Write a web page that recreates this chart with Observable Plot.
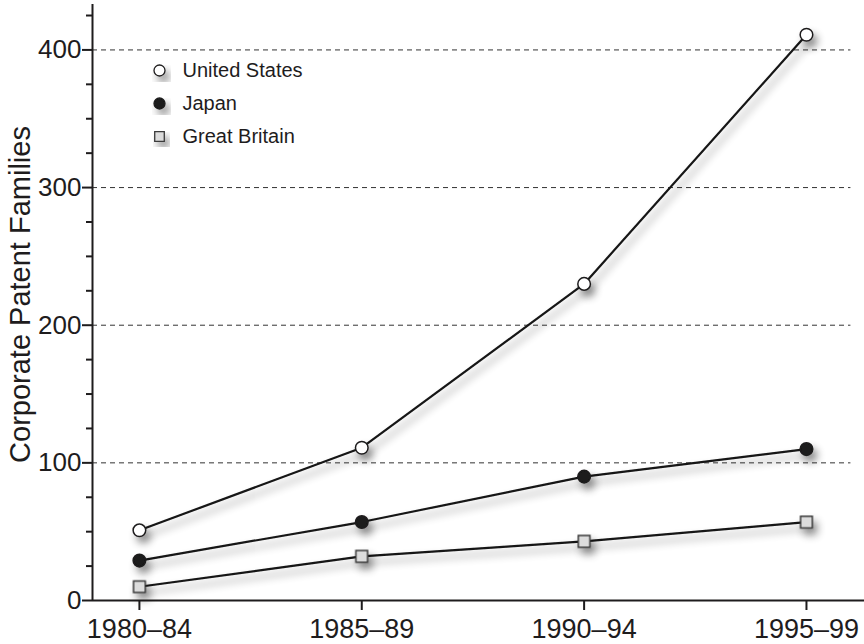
<!DOCTYPE html>
<html>
<head>
<meta charset="utf-8">
<script src="https://cdn.jsdelivr.net/npm/d3@7"></script>
<script src="https://cdn.jsdelivr.net/npm/@observablehq/plot@0.6"></script>
<style>
  html, body { margin: 0; padding: 0; background: #fff; }
  #chart { width: 864px; height: 644px; }
</style>
</head>
<body>
<div id="chart"></div>
<script>
// ---- data ----
const periods = ["1980–84", "1985–89", "1990–94", "1995–99"];
const unitedStates = [51, 111, 230, 411];
const japan = [29, 57, 90, 110];
const greatBritain = [10, 32, 43, 57];
const yMajorTicks = [0, 100, 200, 300, 400];
const yMinorTicks = [25, 50, 75, 125, 150, 175, 225, 250, 275, 325, 350, 375, 425];
const gridValues = [100, 200, 300, 400];
const legendItems = ["United States", "Japan", "Great Britain"];
const yLabel = "Corporate Patent Families";

// ---- layout ----
const W = 864, H = 644, mL = 92, mR = 0, mT = 4, mB = 44;
const xDom = [-0.211, 3.261];
const yDom = [0, 433];
const ppx = (W - mL - mR) / (xDom[1] - xDom[0]);
const ppy = (H - mT - mB) / (yDom[1] - yDom[0]);
const ink = "#1e1c1d";

const styles = {
  "United States": {symbol: "circle", fill: "#ffffff", stroke: ink, r: 6.3, lr: 5.5},
  "Japan": {symbol: "circle", fill: "#1a1a1a", stroke: ink, r: 6.3, lr: 5.5},
  "Great Britain": {symbol: "square", fill: "#dcdcdc", stroke: "#3a3a3a", r: 6.6, lr: 5.4}
};

const series = {"United States": unitedStates, "Japan": japan, "Great Britain": greatBritain};
const rows = [];
for (const [country, vals] of Object.entries(series)) {
  vals.forEach((v, i) => rows.push({country, i, period: periods[i], value: v}));
}

const marks = [
  // dashed grid
  Plot.ruleY(gridValues, {x1: xDom[0], x2: 3.2, stroke: "#333", strokeWidth: 1, strokeDasharray: "5,4"}),
  // y axis line + ticks
  Plot.ruleX([xDom[0]], {stroke: ink, strokeWidth: 2}),
  Plot.ruleY(yMinorTicks, {x1: xDom[0] - 6 / ppx, x2: xDom[0], stroke: ink, strokeWidth: 2}),
  Plot.ruleY(yMajorTicks, {x1: xDom[0] - 10 / ppx, x2: xDom[0], stroke: ink, strokeWidth: 2}),
  Plot.text(yMajorTicks, {x: xDom[0], y: d => d, dx: -11, text: d => String(d), textAnchor: "end", fontSize: 26, fill: ink}),
  // x axis line + ticks
  Plot.ruleY([0], {stroke: ink, strokeWidth: 2}),
  Plot.ruleX(periods.map((_, i) => i), {y1: 0, y2: -10 / ppy, stroke: ink, strokeWidth: 2}),
  Plot.text(periods, {x: (d, i) => i, y: 0, dy: 18, text: d => d, lineAnchor: "top", fontSize: 27, fill: ink}),
  // y label
  Plot.text([yLabel], {frameAnchor: "left", dx: -72, dy: -8, rotate: -90, text: d => d, textAnchor: "middle", lineAnchor: "middle", fontSize: 29, fill: ink}),
  // series lines
  Plot.line(rows, {x: "i", y: "value", z: "country", stroke: "#151515", strokeWidth: 2.2})
];

for (const c of legendItems) {
  const s = styles[c];
  marks.push(Plot.dot(rows.filter(d => d.country === c), {
    x: "i", y: "value", symbol: s.symbol, r: s.r, fill: s.fill, stroke: s.stroke, strokeWidth: 1.5
  }));
}

legendItems.forEach((c, k) => {
  const s = styles[c];
  marks.push(Plot.dot([c], {frameAnchor: "top-left", dx: 67, dy: 66 + 33 * k, symbol: s.symbol, r: s.lr, fill: s.fill, stroke: s.stroke, strokeWidth: 1.3}));
  marks.push(Plot.text([c], {frameAnchor: "top-left", dx: 90, dy: 66 + 33 * k, text: d => d, textAnchor: "start", lineAnchor: "middle", fontSize: 20, fill: ink}));
});

const chart = Plot.plot({
  width: W, height: H,
  marginLeft: mL, marginRight: mR, marginTop: mT, marginBottom: mB,
  x: {type: "linear", domain: xDom, axis: null},
  y: {type: "linear", domain: yDom, axis: null},
  style: {fontFamily: "'Liberation Sans', Arial, Helvetica, sans-serif", background: "#fff", color: ink, overflow: "visible"},
  marks
});

// soft drop shadow like the reference
const svg = d3.select(chart);
const defs = svg.insert("defs", ":first-child");
const f = defs.append("filter").attr("id", "shadow").attr("x", "-50%").attr("y", "-50%").attr("width", "200%").attr("height", "200%");
f.append("feGaussianBlur").attr("in", "SourceAlpha").attr("stdDeviation", 4).attr("result", "blur");
f.append("feOffset").attr("in", "blur").attr("dx", 4).attr("dy", 6).attr("result", "off");
f.append("feComponentTransfer").attr("in", "off").attr("result", "soft")
  .append("feFuncA").attr("type", "linear").attr("slope", 0.45);
const m = f.append("feMerge");
m.append("feMergeNode").attr("in", "soft");
m.append("feMergeNode").attr("in", "SourceGraphic");
svg.selectAll('g[aria-label="line"], g[aria-label="dot"]').attr("filter", "url(#shadow)");

document.getElementById("chart").appendChild(chart);
</script>
</body>
</html>
